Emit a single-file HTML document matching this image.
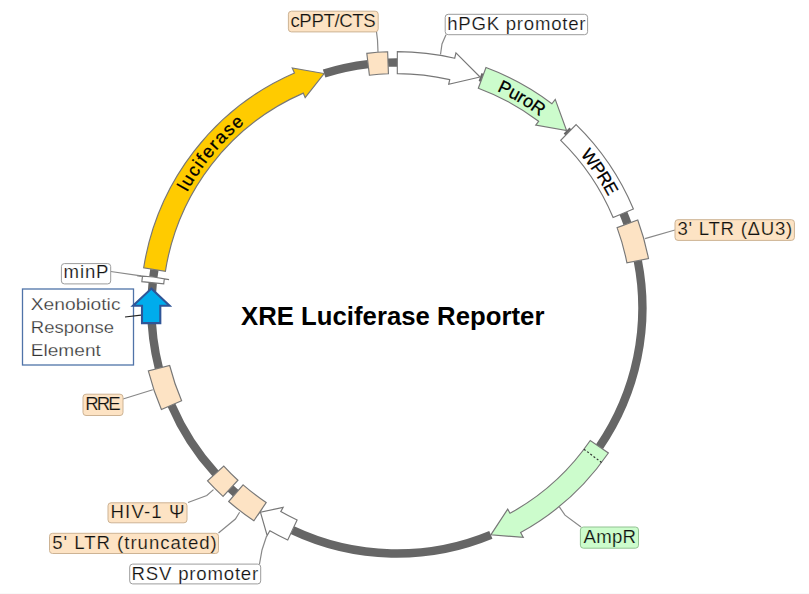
<!DOCTYPE html><html><head><meta charset="utf-8"><style>html,body{margin:0;padding:0;background:#fff;}svg{display:block;}text{font-family:"Liberation Sans",sans-serif;}</style></head><body>
<svg width="809" height="594" viewBox="0 0 809 594">
<rect x="0" y="0" width="809" height="594" fill="#ffffff"/>
<defs><path id="tp_luc" d="M187.23,192.25 A239.50,239.50 0 0 1 244.56,123.20" fill="none"/><path id="tp_puro" d="M496.77,90.87 A239.00,239.00 0 0 1 540.07,116.63" fill="none"/><path id="tp_wpre" d="M580.25,154.69 A239.00,239.00 0 0 1 608.31,196.53" fill="none"/></defs>
<path d="M153.36,277.02 A245.50,245.50 0 0 1 154.42,269.60 M324.10,73.54 A245.50,245.50 0 0 1 368.09,64.20 M388.03,62.66 A245.50,245.50 0 0 1 397.33,62.50 M480.06,77.01 A245.50,245.50 0 0 1 482.19,77.79 M566.57,130.57 A245.50,245.50 0 0 1 568.48,132.42 M623.35,213.18 A245.50,245.50 0 0 1 627.51,223.79 M637.81,260.74 A245.50,245.50 0 0 1 599.39,446.81 M490.85,534.81 A245.50,245.50 0 0 1 292.37,530.14 M260.44,512.08 A245.50,245.50 0 0 1 259.97,511.77 M235.84,493.28 A245.50,245.50 0 0 1 230.41,488.42 M215.61,473.54 A245.50,245.50 0 0 1 171.42,405.11 M158.90,368.22 A245.50,245.50 0 0 1 152.86,281.27 " fill="none" stroke="#666666" stroke-width="8.4" stroke-linecap="butt"/>
<path d="M143.66,267.89 A256.40,256.40 0 0 1 294.46,72.96 L292.26,67.91 L324.10,73.54 L305.16,97.52 L303.25,93.12 A234.40,234.40 0 0 0 165.39,271.33 Z" fill="#ffcb00" stroke="#777777" stroke-width="1.15" stroke-linejoin="miter"/>
<path d="M366.81,53.37 A256.40,256.40 0 0 1 387.64,51.77 L388.43,73.75 A234.40,234.40 0 0 0 369.39,75.22 Z" fill="#fde3c4" stroke="#777777" stroke-width="1.15" stroke-linejoin="miter"/>
<path d="M397.35,51.60 A256.40,256.40 0 0 1 454.71,58.20 L455.95,52.84 L480.06,77.01 L448.67,84.31 L449.75,79.64 A234.40,234.40 0 0 0 397.31,73.60 Z" fill="#ffffff" stroke="#777777" stroke-width="1.15" stroke-linejoin="miter"/>
<path d="M485.98,67.57 A256.40,256.40 0 0 1 551.92,103.77 L555.24,99.39 L566.57,130.57 L535.72,125.12 L538.62,121.29 A234.40,234.40 0 0 0 478.34,88.20 Z" fill="#ccfccc" stroke="#777777" stroke-width="1.15" stroke-linejoin="miter"/>
<path d="M576.10,124.62 A256.40,256.40 0 0 1 633.40,208.97 L613.11,217.47 A234.40,234.40 0 0 0 560.73,140.36 Z" fill="#ffffff" stroke="#777777" stroke-width="1.15" stroke-linejoin="miter"/>
<path d="M637.75,220.05 A256.40,256.40 0 0 1 648.50,258.64 L626.92,262.87 A234.40,234.40 0 0 0 617.08,227.60 Z" fill="#fde3c4" stroke="#777777" stroke-width="1.15" stroke-linejoin="miter"/>
<path d="M608.38,452.97 A256.40,256.40 0 0 1 520.62,532.58 L523.27,537.39 L490.85,534.81 L507.69,509.10 L510.00,513.31 A234.40,234.40 0 0 0 590.24,440.53 Z" fill="#ccfccc" stroke="#777777" stroke-width="1.15" stroke-linejoin="miter"/>
<path d="M287.73,540.00 A256.40,256.40 0 0 1 269.86,530.72 L267.14,535.49 L260.44,512.08 L283.14,507.44 L280.76,511.61 A234.40,234.40 0 0 0 297.10,520.09 Z" fill="#ffffff" stroke="#777777" stroke-width="1.15" stroke-linejoin="miter"/>
<path d="M253.89,520.82 A256.40,256.40 0 0 1 228.69,501.51 L243.12,484.90 A234.40,234.40 0 0 0 266.16,502.55 Z" fill="#fde3c4" stroke="#777777" stroke-width="1.15" stroke-linejoin="miter"/>
<path d="M223.02,496.43 A256.40,256.40 0 0 1 207.56,480.89 L223.81,466.06 A234.40,234.40 0 0 0 237.94,480.26 Z" fill="#fde3c4" stroke="#777777" stroke-width="1.15" stroke-linejoin="miter"/>
<path d="M161.41,409.42 A256.40,256.40 0 0 1 148.33,370.90 L169.66,365.50 A234.40,234.40 0 0 0 181.62,400.72 Z" fill="#fde3c4" stroke="#777777" stroke-width="1.15" stroke-linejoin="miter"/>
<path d="M141.86,281.64 A256.40,256.40 0 0 1 142.47,276.31 L137.01,275.63 L153.36,277.02 L169.06,279.62 L164.30,279.03 A234.40,234.40 0 0 0 163.74,283.91 Z" fill="#ffffff" stroke="#777777" stroke-width="1.15" stroke-linejoin="miter"/>
<line x1="583.98" y1="449.23" x2="601.54" y2="462.48" stroke="#333" stroke-width="1.2" stroke-dasharray="2,2"/>
<text font-size="18.0" fill="#000" stroke="#000" stroke-width="0.25"><textPath href="#tp_luc" textLength="90.3" lengthAdjust="spacing">luciferase</textPath></text>
<text font-size="18.0" fill="#000" stroke="#000" stroke-width="0.25"><textPath href="#tp_puro" textLength="50.5" lengthAdjust="spacing">PuroR</textPath></text>
<text font-size="17.5" fill="#000" stroke="#000" stroke-width="0.25"><textPath href="#tp_wpre" textLength="50.5" lengthAdjust="spacing">WPRE</textPath></text>
<polyline points="378.0,52.0 377.5,40.0 376.5,32.0" fill="none" stroke="#888888" stroke-width="1.2"/>
<polyline points="440.5,54.5 442.0,44.0 446.0,34.7" fill="none" stroke="#888888" stroke-width="1.2"/>
<polyline points="645.0,238.7 675.0,230.0" fill="none" stroke="#888888" stroke-width="1.2"/>
<polyline points="559.0,506.4 565.0,515.2 581.0,527.0" fill="none" stroke="#888888" stroke-width="1.2"/>
<polyline points="213.5,489.6 206.8,495.5 188.0,502.5" fill="none" stroke="#888888" stroke-width="1.2"/>
<polyline points="239.6,512.3 235.4,519.0 218.5,533.0" fill="none" stroke="#888888" stroke-width="1.2"/>
<polyline points="266.7,535.7 262.0,550.0 259.5,564.0" fill="none" stroke="#888888" stroke-width="1.2"/>
<polyline points="152.8,389.7 123.0,399.0" fill="none" stroke="#888888" stroke-width="1.2"/>
<polyline points="141.0,275.8 110.7,271.5" fill="none" stroke="#888888" stroke-width="1.2"/>
<rect x="288.4" y="11.2" width="89.8" height="20.7" rx="3" ry="3" fill="#fde3c4" stroke="#cdb394" stroke-width="1"/>
<text x="290.4" y="26.6" font-size="18.6" fill="#111" stroke="#fde3c4" stroke-width="0.2" textLength="85.3" lengthAdjust="spacing">cPPT/CTS</text>
<rect x="445.2" y="14.3" width="142.4" height="20.4" rx="3" ry="3" fill="#ffffff" stroke="#9c9c9c" stroke-width="1"/>
<text x="447.2" y="29.9" font-size="18.6" fill="#111" stroke="#ffffff" stroke-width="0.2" textLength="138.3" lengthAdjust="spacing">hPGK promoter</text>
<rect x="675.0" y="219.7" width="119.4" height="20.7" rx="3" ry="3" fill="#fde3c4" stroke="#cdb394" stroke-width="1"/>
<text x="677.5" y="235.4" font-size="18.6" fill="#111" stroke="#fde3c4" stroke-width="0.2" textLength="114.7" lengthAdjust="spacing">3' LTR (&#916;U3)</text>
<rect x="580.4" y="527.0" width="58.1" height="21.2" rx="3" ry="3" fill="#ccfccc" stroke="#92c292" stroke-width="1"/>
<text x="583.5" y="542.6" font-size="18.6" fill="#111" stroke="#ccfccc" stroke-width="0.2" textLength="52.5" lengthAdjust="spacing">AmpR</text>
<rect x="129.7" y="564.1" width="131.0" height="19.8" rx="3" ry="3" fill="#ffffff" stroke="#9c9c9c" stroke-width="1"/>
<text x="131.6" y="579.7" font-size="18.6" fill="#111" stroke="#ffffff" stroke-width="0.2" textLength="126.6" lengthAdjust="spacing">RSV promoter</text>
<rect x="49.5" y="533.3" width="169.0" height="20.2" rx="3" ry="3" fill="#fde3c4" stroke="#cdb394" stroke-width="1"/>
<text x="52.2" y="548.8" font-size="18.6" fill="#111" stroke="#fde3c4" stroke-width="0.2" textLength="164.6" lengthAdjust="spacing">5' LTR (truncated)</text>
<rect x="108.0" y="502.8" width="79.0" height="20.0" rx="3" ry="3" fill="#fde3c4" stroke="#cdb394" stroke-width="1"/>
<text x="110.5" y="517.9" font-size="18.6" fill="#111" stroke="#fde3c4" stroke-width="0.2" textLength="74.1" lengthAdjust="spacing">HIV-1 &#936;</text>
<rect x="83.0" y="394.2" width="40.0" height="21.3" rx="3" ry="3" fill="#fde3c4" stroke="#cdb394" stroke-width="1"/>
<text x="85.3" y="409.8" font-size="18.6" fill="#111" stroke="#fde3c4" stroke-width="0.2" textLength="35.3" lengthAdjust="spacing">RRE</text>
<rect x="61.4" y="263.6" width="49.3" height="20.3" rx="3" ry="3" fill="#ffffff" stroke="#9c9c9c" stroke-width="1"/>
<text x="63.6" y="278.4" font-size="18.6" fill="#111" stroke="#ffffff" stroke-width="0.2" textLength="44.9" lengthAdjust="spacing">minP</text>
<rect x="22.5" y="289" width="111" height="76" fill="#ffffff" stroke="#4f73a8" stroke-width="1.3"/>
<text x="30.8" y="310.0" font-size="16.8" fill="#333" stroke="#fff" stroke-width="0.25" textLength="89.7" lengthAdjust="spacingAndGlyphs">Xenobiotic</text>
<text x="30.8" y="333.0" font-size="16.8" fill="#333" stroke="#fff" stroke-width="0.25" textLength="83.2" lengthAdjust="spacingAndGlyphs">Response</text>
<text x="30.8" y="356.0" font-size="16.8" fill="#333" stroke="#fff" stroke-width="0.25" textLength="70.0" lengthAdjust="spacingAndGlyphs">Element</text>
<polyline points="141.0,315.2 125.0,317.0" fill="none" stroke="#222" stroke-width="1.2"/>
<path d="M151.3,288.6 L169.6,305.8 L160.3,305.8 L160.3,323.1 L142,323.1 L142,305.8 L133,305.8 Z" fill="#00acec" stroke="#2f5597" stroke-width="2.1" stroke-linejoin="miter"/>
<text x="241" y="324.9" font-size="25.7" font-weight="bold" fill="#000" textLength="303.4" lengthAdjust="spacing">XRE Luciferase Reporter</text>
<rect x="0" y="593" width="809" height="1" fill="#f9f9f9"/>
</svg></body></html>
